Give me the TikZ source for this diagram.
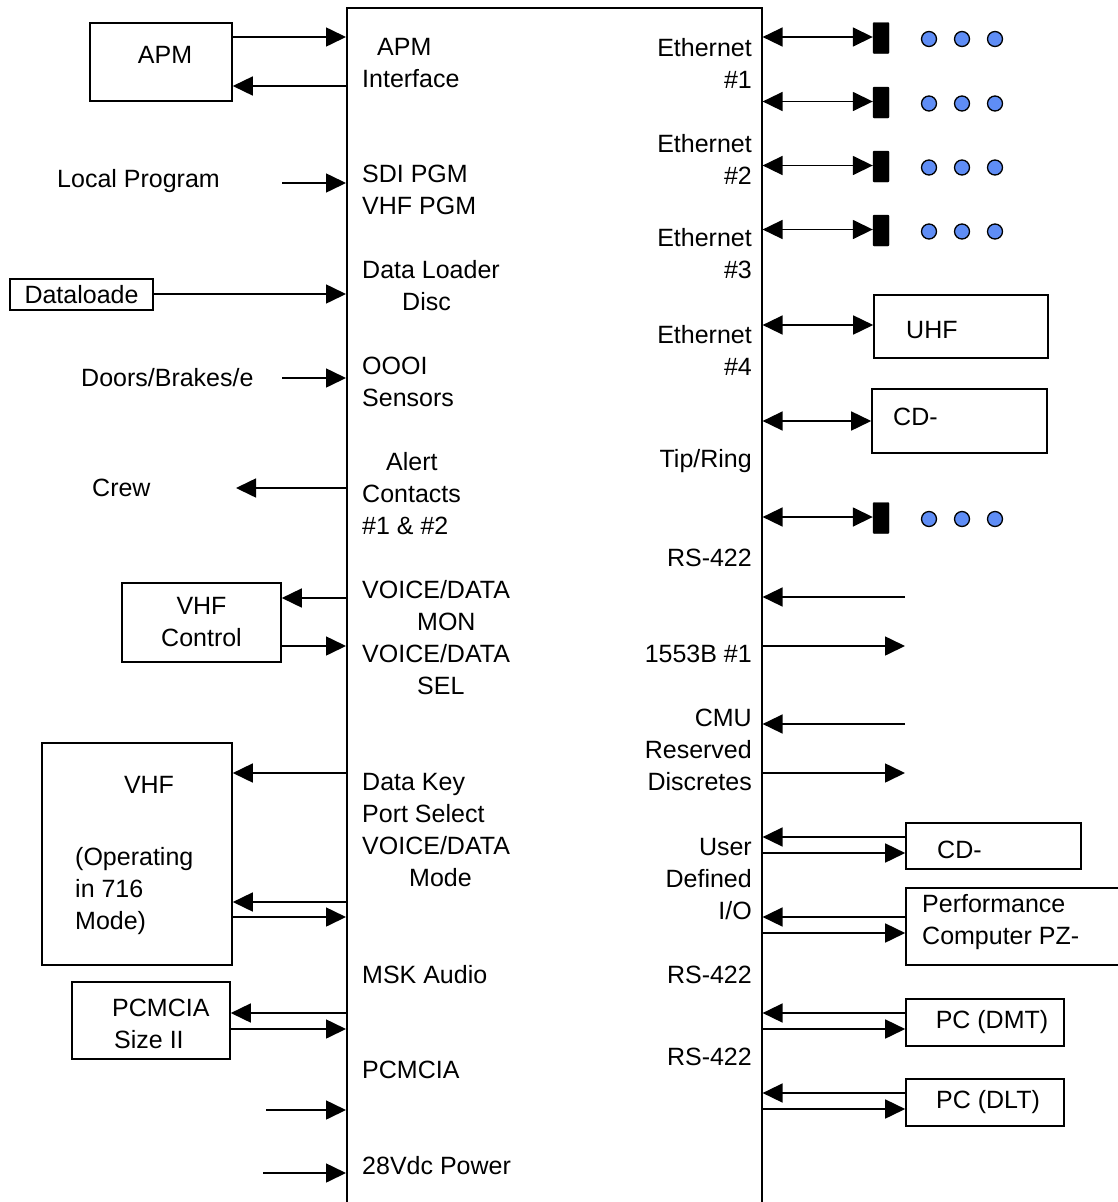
\documentclass[tikz,border=0pt]{standalone}
\usepackage{fontspec}
\setmainfont{Liberation Sans}
\usetikzlibrary{arrows.meta}
\definecolor{PortBlue}{HTML}{5F8DF5}
\newcommand{\lblfont}{\fontsize{25}{32}\selectfont}
\tikzset{
  blk/.style={draw, line width=1.6pt, inner sep=0pt, align=center, font=\lblfont},
  ltxt/.style={inner sep=0pt, align=left, anchor=west, font=\lblfont},
  rtxt/.style={inner sep=0pt, align=right, anchor=east, font=\lblfont},
  sw/.style={draw, fill=black, rounded corners=1pt, minimum width=16pt, minimum height=31pt, inner sep=0pt},
  portdot/.style={circle, draw, fill=PortBlue, line width=1.3pt, minimum size=15pt, inner sep=0pt},
  arr/.style={-{Triangle[length=20pt, width=19pt]}, line width=1.6pt},
  darr/.style={{Triangle[length=20pt, width=19pt]}-{Triangle[length=20pt, width=19pt]}, line width=1.6pt}
}
\begin{document}
\begin{tikzpicture}[x=1pt, y=-1pt]
\useasboundingbox (0,0) rectangle (1118,1202);
% central unit, open at the bottom
\node[draw, line width=1.6pt, minimum width=415pt, minimum height=1240pt, anchor=north west, inner sep=0pt] (cmf) at (346,7) {};
% labels inside the unit, left column
\node[ltxt] (apmif) at (362,63) {\hspace*{15pt}APM\\Interface};
\node[ltxt] (pgm) at (362,190) {SDI PGM\\VHF PGM};
\node[ltxt] (dld) at (362,286) {Data Loader\\\hspace*{40pt}Disc};
\node[ltxt] (oooi) at (362,382) {OOOI\\Sensors};
\node[ltxt] (alert) at (362,494) {\hspace*{24pt}Alert\\Contacts\\\#1 \& \#2};
\node[ltxt] (vdmon) at (362,638) {VOICE/DATA\\\hspace*{55pt}MON\\VOICE/DATA\\\hspace*{55pt}SEL};
\node[ltxt] (dkey) at (362,830) {Data Key\\Port Select\\VOICE/DATA\\\hspace*{47pt}Mode};
\node[ltxt] (msk) at (362,975) {MSK Audio};
\node[ltxt] (pcm) at (362,1070) {PCMCIA};
\node[ltxt] (pwr) at (362,1166) {28Vdc Power};
% labels inside the unit, right column
\node[rtxt] (eth1) at (752,63) {Ethernet\\\#1};
\node[rtxt] (eth2) at (752,159) {Ethernet\\\#2};
\node[rtxt] (eth3) at (752,254) {Ethernet\\\#3};
\node[rtxt] (eth4) at (752,350) {Ethernet\\\#4};
\node[rtxt] (tip) at (752,461) {Tip/Ring};
\node[rtxt] (rsa) at (752,558) {RS-422};
\node[rtxt] (mil) at (752,654) {1553B \#1};
\node[rtxt] (cmu) at (752,750) {CMU\\Reserved\\Discretes};
\node[rtxt] (udio) at (752,879) {User\\Defined\\I/O};
\node[rtxt] (rsb) at (752,975) {RS-422};
\node[rtxt] (rsc) at (752,1057) {RS-422};

% left side equipment
\node[blk, minimum width=142pt, minimum height=78pt] (apm) at (161,62) {};
\node[ltxt, anchor=center] (apmtxt) at (165,55) {APM};
\node[ltxt, anchor=west] (local) at (57,181) {Local Program};
\node[blk, minimum width=143pt, minimum height=31pt] (dload) at (81.5,294.5) {Dataloade};
\node[ltxt] (doors) at (81,378) {Doors/Brakes/e};
\node[ltxt] (crew) at (92,488) {Crew};
\node[blk, minimum width=159pt, minimum height=79pt] (vhfctl) at (201.5,622.5) {VHF\\Control};
\node[blk, minimum width=190pt, minimum height=222pt] (vhf) at (137,854) {};
\node[ltxt, anchor=center] (vhftxt) at (149,785) {VHF};
\node[ltxt] (vhfmode) at (75,891) {(Operating\\in 716\\Mode)};
\node[blk, minimum width=158pt, minimum height=77pt] (pcbox) at (151,1020.5) {};
\node[ltxt] (pctxt) at (112,1024) {PCMCIA\\\hspace*{2pt}Size II};

\coordinate (lpend) at (282,183);
\coordinate (doend) at (282,378);
\coordinate (crend) at (236,488);
\coordinate (pcend) at (266,1110);
\coordinate (pwend) at (263,1173);

\draw[arr] (apm.east |- 0,37) -- (cmf.west |- 0,37);
\draw[arr] (cmf.west |- 0,86) -- (apm.east |- 0,86);
\draw[arr] (lpend) -- (cmf.west |- lpend);
\draw[arr] (dload.east |- 0,294) -- (cmf.west |- 0,294);
\draw[arr] (doend) -- (cmf.west |- doend);
\draw[arr] (cmf.west |- crend) -- (crend);
\draw[arr] (cmf.west |- 0,598) -- (vhfctl.east |- 0,598);
\draw[arr] (vhfctl.east |- 0,646) -- (cmf.west |- 0,646);
\draw[arr] (cmf.west |- 0,773) -- (vhf.east |- 0,773);
\draw[arr] (cmf.west |- 0,902) -- (vhf.east |- 0,902);
\draw[arr] (vhf.east |- 0,917) -- (cmf.west |- 0,917);
\draw[arr] (cmf.west |- 0,1013) -- (pcbox.east |- 0,1013);
\draw[arr] (pcbox.east |- 0,1029) -- (cmf.west |- 0,1029);
\draw[arr] (pcend) -- (cmf.west |- pcend);
\draw[arr] (pwend) -- (cmf.west |- pwend);

% right side equipment
\foreach \y/\n in {37/1, 101.5/2, 165.5/3, 229.5/4, 517/5} {
  \node[sw] (sw\n) at (881,\y+1) {};
  \foreach \x/\m in {929/a, 962/b, 995/c}
    \node[portdot] (p\n\m) at (\x,\y+2) {};
  \draw[darr] (cmf.east |- 0,\y) -- (sw\n.west |- 0,\y);
}
\node[blk, minimum width=174pt, minimum height=63pt] (uhf) at (961,326.5) {};
\node[ltxt] (uhftxt) at (906,330) {UHF};
\node[blk, minimum width=175pt, minimum height=64pt] (cda) at (959.5,421) {};
\node[ltxt] (cdatxt) at (893,417) {CD-};
\node[blk, minimum width=175pt, minimum height=46pt] (cdb) at (993.5,846) {};
\node[ltxt] (cdbtxt) at (937,850) {CD-};
\node[blk, minimum width=240pt, minimum height=77pt] (perf) at (1026,926.5) {};
\node[ltxt] (perftxt) at (922,922.5) {Performance\\Computer PZ-};
\node[blk, minimum width=158pt, minimum height=47pt] (dmt) at (985,1022.5) {\hspace*{14pt}PC (DMT)};
\node[blk, minimum width=158pt, minimum height=47pt] (dlt) at (985,1102.5) {\hspace*{6pt}PC (DLT)};

\coordinate (rsend) at (905,597);
\coordinate (milend) at (905,646);
\coordinate (cmuin) at (905,724);
\coordinate (cmuout) at (905,773);

\draw[darr] (cmf.east |- 0,325) -- (uhf.west |- 0,325);
\draw[darr] (cmf.east |- 0,421) -- (cda.west |- 0,421);
\draw[arr] (rsend) -- (cmf.east |- rsend);
\draw[arr] (cmf.east |- milend) -- (milend);
\draw[arr] (cmuin) -- (cmf.east |- cmuin);
\draw[arr] (cmf.east |- cmuout) -- (cmuout);
\draw[arr] (cdb.west |- 0,837) -- (cmf.east |- 0,837);
\draw[arr] (cmf.east |- 0,853) -- (cdb.west |- 0,853);
\draw[arr] (perf.west |- 0,917) -- (cmf.east |- 0,917);
\draw[arr] (cmf.east |- 0,933) -- (perf.west |- 0,933);
\draw[arr] (dmt.west |- 0,1013) -- (cmf.east |- 0,1013);
\draw[arr] (cmf.east |- 0,1029) -- (dmt.west |- 0,1029);
\draw[arr] (dlt.west |- 0,1093) -- (cmf.east |- 0,1093);
\draw[arr] (cmf.east |- 0,1109) -- (dlt.west |- 0,1109);
\end{tikzpicture}
\end{document}
